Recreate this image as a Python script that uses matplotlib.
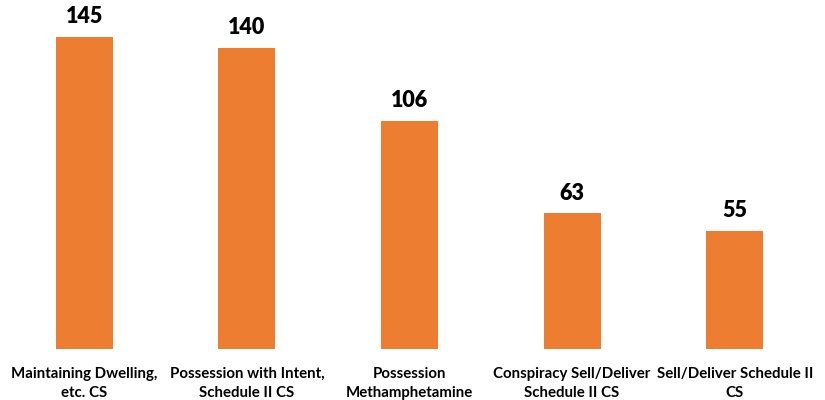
import matplotlib
matplotlib.use("Agg")
import matplotlib.pyplot as plt

categories = ["Maintaining Dwelling,\netc. CS", "Possession with Intent,\nSchedule II CS",
              "Possession\nMethamphetamine", "Conspiracy Sell/Deliver\nSchedule II CS",
              "Sell/Deliver Schedule II\nCS"]
values = [145, 140, 106, 63, 55]

plt.rcParams['font.family'] = ['Lato', 'DejaVu Sans']

fig = plt.figure(figsize=(8.25, 4.0), dpi=100)
ax = fig.add_axes([3/825, 51/400, 813/825, 349/400])
x = list(range(len(values)))
bars = ax.bar(x, values, width=0.35, color='#ED7D31')
ax.set_xlim(-0.5, len(values) - 0.5)
ax.set_ylim(0, 162.2)
for xi, v in zip(x, values):
    ax.annotate(str(v), (xi, v), xytext=(0, 7), textcoords='offset points',
                ha='center', va='bottom', fontsize=15.5, fontweight='heavy', color='black')
ax.set_xticks(x)
ax.set_xticklabels(categories, fontsize=10.8, fontweight='bold', linespacing=1.45)
ax.tick_params(axis='x', length=0, pad=13)
ax.set_yticks([])
for s in ax.spines.values():
    s.set_visible(False)
fig.savefig("out.png", dpi=100)
